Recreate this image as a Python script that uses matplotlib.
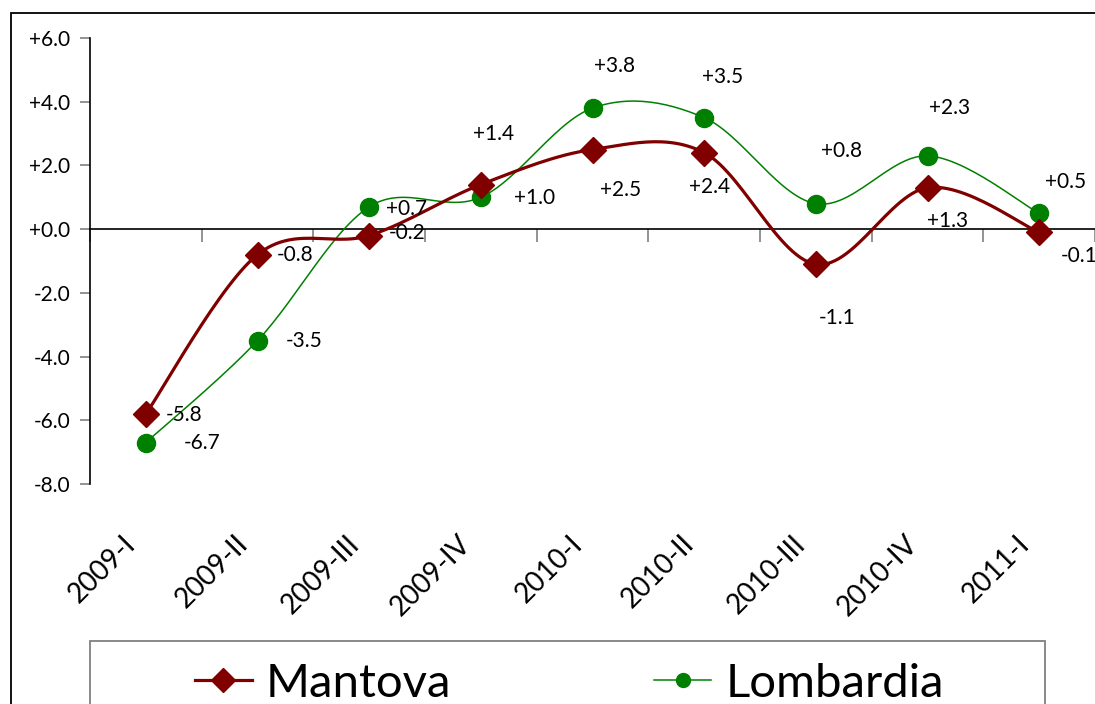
import numpy as np
import matplotlib.pyplot as plt
from matplotlib.patches import Rectangle

plt.rcParams['font.family'] = ['Lato', 'DejaVu Sans']

# dati
trimestri = ["2009-I", "2009-II", "2009-III", "2009-IV", "2010-I",
             "2010-II", "2010-III", "2010-IV", "2011-I"]
mantova = [-5.8, -0.8, -0.2, 1.4, 2.5, 2.4, -1.1, 1.3, -0.1]
lombardia = [-6.7, -3.5, 0.7, 1.0, 3.8, 3.5, 0.8, 2.3, 0.5]

# spostamento etichette (pixel)
off_mantova = [(38, -1), (38, 0), (38, 3), (13, 51), (28, -40),
               (5, -34), (21, -54), (20, -33), (40, -24)]
off_lombardia = [(56, 0), (47, 0), (37, -2), (54, -1), (22, 42),
                 (18, 41), (26, 53), (22, 48), (26, 31)]


def smooth(y, n=30):
    # curva di Bezier come la linea smussata di Excel
    x = np.arange(len(y), dtype=float)
    y = np.asarray(y, dtype=float)
    xs, ys = [], []
    t = np.linspace(0, 1, n)
    for i in range(len(y) - 1):
        i0, i3 = max(i - 1, 0), min(i + 2, len(y) - 1)
        p0 = np.array([x[i], y[i]])
        p3 = np.array([x[i + 1], y[i + 1]])
        c1 = p0 + (np.array([x[i + 1], y[i + 1]]) - np.array([x[i0], y[i0]])) / 6
        c2 = p3 - (np.array([x[i3], y[i3]]) - np.array([x[i], y[i]])) / 6
        pts = ((1 - t) ** 3)[:, None] * p0 + (3 * (1 - t) ** 2 * t)[:, None] * c1 \
            + (3 * (1 - t) * t ** 2)[:, None] * c2 + (t ** 3)[:, None] * p3
        xs.extend(pts[:, 0])
        ys.extend(pts[:, 1])
    return xs, ys


fig = plt.figure(figsize=(10.95, 7.04), dpi=100)
ax = fig.add_axes([90 / 1095, 1 - 484 / 704, 1005 / 1095, 446 / 704])

x = np.arange(len(trimestri))
c_m = "#800000"
c_l = "#008000"

sx, sy = smooth(lombardia)
ax.plot(sx, sy, color=c_l, lw=1.1, zorder=3)
ax.plot(x, lombardia, 'o', color=c_l, ms=13, zorder=4)
sx, sy = smooth(mantova)
ax.plot(sx, sy, color=c_m, lw=2.3, zorder=3)
ax.plot(x, mantova, 'D', color=c_m, ms=13, zorder=4)

for i, v in enumerate(mantova):
    ax.annotate(f"{v:+.1f}", (i, v), xytext=off_mantova[i], textcoords='offset pixels',
                ha='center', va='center', fontsize=15, annotation_clip=False)
for i, v in enumerate(lombardia):
    ax.annotate(f"{v:+.1f}", (i, v), xytext=off_lombardia[i], textcoords='offset pixels',
                ha='center', va='center', fontsize=15, annotation_clip=False)

ax.set_xlim(-0.5, 8.5)
ax.set_ylim(-8, 6)
ax.set_yticks(np.arange(-8, 7, 2))
ax.set_yticklabels([f"{v:+.1f}" for v in np.arange(-8, 7, 2)], fontsize=15)
ax.tick_params(axis='y', direction='out', length=7, width=1.2, color='#808080', pad=7)

ax.spines['top'].set_visible(False)
ax.spines['right'].set_visible(False)
ax.spines['bottom'].set_position(('data', 0))
ax.spines['bottom'].set_linewidth(1.2)
ax.spines['left'].set_linewidth(1.2)
ax.set_xticks(np.arange(-0.5, 9, 1))
ax.set_xticklabels([])
ax.tick_params(axis='x', direction='out', length=9, width=1.2, color='#808080')

for i, lab in enumerate(trimestri):
    ax.annotate(lab, (i, -0.125), xycoords=('data', 'axes fraction'),
                xytext=(-14, 0), textcoords='offset pixels', rotation=45,
                rotation_mode='anchor', ha='right', va='center', fontsize=20,
                annotation_clip=False)

# legenda
h_m = plt.Line2D([], [], color=c_m, lw=2.3, marker='D', ms=12)
h_l = plt.Line2D([], [], color=c_l, lw=1.1, marker='o', ms=10)
fig.legend([h_m, h_l], ["Mantova", "Lombardia"], loc='upper left',
           bbox_to_anchor=(195 / 1095, 1 - 663 / 704), ncol=2, fontsize=34,
           frameon=False, handlelength=1.2, handletextpad=0.3,
           columnspacing=4.3, borderpad=0, borderaxespad=0)
fig.patches.append(Rectangle((90 / 1095, -0.1), 955 / 1095, 0.1 + 1 - 641 / 704,
                             transform=fig.transFigure, fill=False,
                             edgecolor='#808080', lw=1.3))

# cornice
fig.patches.append(Rectangle((11 / 1095, -0.1), 1.2, 1.1 - 13 / 704,
                             transform=fig.transFigure, fill=False,
                             edgecolor='black', lw=1.3))

fig.savefig("out.png", dpi=100)
